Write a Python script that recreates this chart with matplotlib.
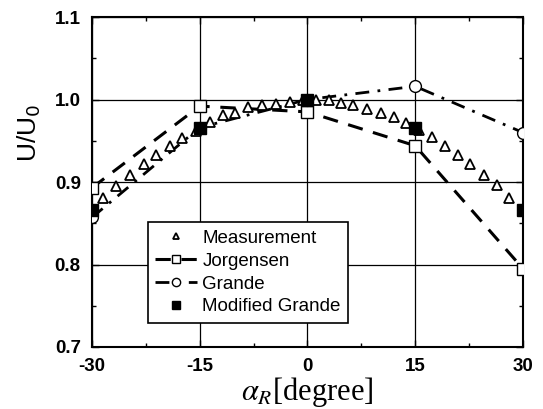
import numpy as np
import matplotlib.pyplot as plt
from matplotlib.ticker import MultipleLocator, FormatStrFormatter

plt.rcParams['font.family'] = ['Liberation Sans', 'DejaVu Sans']
plt.rcParams['mathtext.fontset'] = 'stix'

# measurement
meas_x = [-28.5, -26.6, -24.7, -22.8, -21.1, -19.2, -17.4, -15.5, -13.6, -11.8, -10.1,
          -8.3, -6.3, -4.4, -2.4, -0.6, 1.2, 3.0, 4.7, 6.4, 8.3, 10.2, 12.0, 13.7,
          15.5, 17.4, 19.1, 20.9, 22.7, 24.6, 26.4, 28.1]
meas_y = [0.881, 0.895, 0.908, 0.922, 0.933, 0.944, 0.953, 0.962, 0.973, 0.981, 0.984,
          0.991, 0.993, 0.995, 0.997, 1.000, 1.000, 0.999, 0.996, 0.993, 0.989, 0.984,
          0.979, 0.972, 0.963, 0.954, 0.944, 0.933, 0.922, 0.909, 0.896, 0.881]

# models
angles = [-30, -15, 0, 15, 30]
jorgensen = [0.893, 0.992, 0.985, 0.944, 0.795]
grande = [0.857, 0.966, 1.000, 1.016, 0.960]
mod_grande = [0.866, 0.966, 1.000, 0.965, 0.866]

fig = plt.figure(figsize=(5.43, 4.09), dpi=100)
ax = fig.add_axes([0.1694, 0.1516, 0.7936, 0.8068])

ax.plot(angles, jorgensen, color='black', lw=2.2, linestyle=(0, (5, 3.5)),
        marker='s', ms=8, mfc='white', mec='black', mew=1.0, label='Jorgensen', zorder=3)
ax.plot(angles, grande, color='black', lw=2.0, linestyle=(0, (5, 3, 1, 3)),
        marker='o', ms=8.5, mfc='white', mec='black', mew=1.0, label='Grande', zorder=3)
ax.plot(meas_x, meas_y, linestyle='none', marker='^', ms=7, mfc='white',
        mec='black', mew=1.3, label='Measurement', zorder=4)
ax.plot(angles, mod_grande, linestyle='none', marker='s', ms=8, color='black',
        label='Modified Grande', zorder=5)

ax.set_xlim(-30, 30)
ax.set_ylim(0.7, 1.1)
ax.xaxis.set_major_locator(MultipleLocator(15))
ax.xaxis.set_minor_locator(MultipleLocator(7.5))
ax.yaxis.set_major_locator(MultipleLocator(0.1))
ax.yaxis.set_minor_locator(MultipleLocator(0.05))
ax.xaxis.set_major_formatter(FormatStrFormatter('%d'))
ax.yaxis.set_major_formatter(FormatStrFormatter('%.1f'))
ax.tick_params(which='both', direction='in', top=True, right=True, width=1.0)
ax.tick_params(which='major', length=5)
ax.tick_params(which='minor', length=3)
ax.tick_params(axis='x', which='major', pad=8, labelsize=13.5)
ax.tick_params(axis='y', which='major', pad=8, labelsize=13.5)
ax.grid(True, which='major', color='black', lw=0.9)
for s in ax.spines.values():
    s.set_linewidth(1.5)

ax.set_ylabel('U/U$_0$', fontsize=19, fontfamily='Liberation Sans',
              math_fontfamily='dejavusans')
ax.yaxis.set_label_coords(-0.114, 0.65)
ax.set_xlabel(r'$\alpha_R$[degree]', fontsize=22, fontfamily='Liberation Serif', labelpad=0)

h, l = ax.get_legend_handles_labels()
order = [2, 0, 1, 3]
leg = ax.legend([h[i] for i in order], [l[i] for i in order],
                loc='lower left', bbox_to_anchor=(0.108, 0.045), fontsize=13.5,
                fancybox=False, edgecolor='black', framealpha=1, markerscale=0.7,
                handlelength=2.2, handletextpad=0.3, labelspacing=0.3,
                borderpad=0.4)
leg.get_frame().set_linewidth(1.2)

fig.canvas.draw()
for lab in ax.get_xticklabels() + ax.get_yticklabels():
    lab.set_fontweight('bold')
    lab.set_fontsize(13.5)

fig.savefig('out.png', dpi=100)
